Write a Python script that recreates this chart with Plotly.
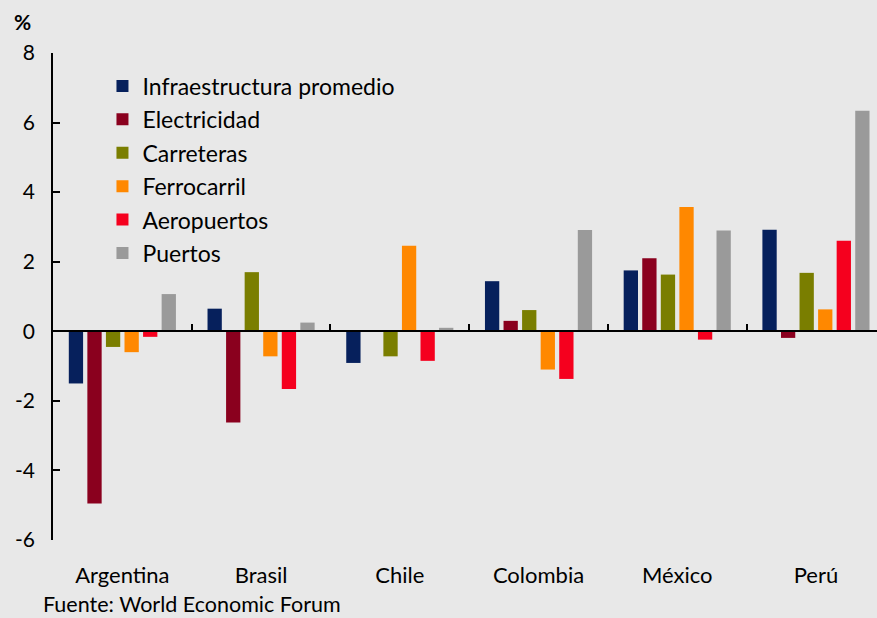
import plotly.graph_objects as go

# Countries on the category axis
countries = ["Argentina", "Brasil", "Chile", "Colombia", "México", "Perú"]

# Change in infrastructure scores (%) by component
infraestructura = [-1.50, 0.65, -0.91, 1.44, 1.75, 2.92]
electricidad = [-4.95, -2.62, 0.0, 0.30, 2.10, -0.19]
carreteras = [-0.45, 1.70, -0.72, 0.61, 1.63, 1.68]
ferrocarril = [-0.60, -0.72, 2.46, -1.10, 3.57, 0.63]
aeropuertos = [-0.16, -1.66, -0.85, -1.37, -0.24, 2.60]
puertos = [1.07, 0.25, 0.10, 2.91, 2.90, 6.34]

series_names = ["Infraestructura promedio", "Electricidad", "Carreteras",
                "Ferrocarril", "Aeropuertos", "Puertos"]
series_values = [infraestructura, electricidad, carreteras,
                 ferrocarril, aeropuertos, puertos]
series_colors = ["#06205C", "#8A001E", "#7A7E00", "#FF8800", "#F5001E", "#9A9A9A"]

y_ticks = [-6, -4, -2, 0, 2, 4, 6, 8]
y_tick_labels = ["-6", "-4", "-2", "0", "2", "4", "6", "8"]

FONT = "Lato"
BG = "#E8E8E8"

fig = go.Figure()
for i, (name, vals, col) in enumerate(zip(series_names, series_values, series_colors)):
    fig.add_trace(go.Bar(
        x=countries, y=vals, name=name, marker_color=col,
        marker_line_width=0, legendgroup=f"g{i}",
    ))

# empty trace so the zero-line axis is drawn
fig.add_trace(go.Scatter(x=[], y=[], xaxis="x2", yaxis="y", showlegend=False))

x_range = [-0.5, 5.44]

fig.update_layout(
    width=877, height=618,
    paper_bgcolor=BG, plot_bgcolor=BG,
    margin=dict(l=52.5, r=0, t=53, b=78),
    barmode="group", bargap=0.197, bargroupgap=0.23,
    font=dict(family=FONT, size=21, color="#000000"),
    xaxis=dict(
        type="category", categoryorder="array", categoryarray=countries,
        range=x_range, showline=False, showgrid=False, zeroline=False,
        ticks="outside", ticklen=16, tickcolor="rgba(0,0,0,0)",
        tickfont=dict(family=FONT, size=22),
    ),
    xaxis2=dict(
        overlaying="x", anchor="free", position=6 / 14,
        range=x_range, showline=True, linecolor="#000000", linewidth=1.5,
        showgrid=False, zeroline=False, showticklabels=False,
        tickmode="array", tickvals=[0.5, 1.5, 2.5, 3.5, 4.5],
        ticks="inside", ticklen=7, tickwidth=1.5, tickcolor="#000000",
    ),
    yaxis=dict(
        range=[-6, 8], tickmode="array", tickvals=y_ticks, ticktext=y_tick_labels,
        showline=True, linecolor="#000000", linewidth=1.5,
        ticks="inside", ticklen=7, tickwidth=1.5, tickcolor="#000000",
        showgrid=False, zeroline=False, ticklabelstandoff=12,
        tickfont=dict(family=FONT, size=21),
    ),
    legend=dict(
        x=(102 - 52.5) / 824.5, y=(540 - 64.5) / 487,
        xanchor="left", yanchor="top",
        bgcolor="rgba(0,0,0,0)", font=dict(family=FONT, size=23),
        tracegroupgap=0.5, itemclick=False,
    ),
    annotations=[
        dict(text="<b>%</b>", xref="paper", yref="paper",
             x=(22 - 52.5) / 824.5, y=(540 - 22) / 487,
             xanchor="center", yanchor="middle", showarrow=False,
             font=dict(family=FONT, size=21)),
        dict(text="Fuente: World Economic Forum", xref="paper", yref="paper",
             x=(40 - 52.5) / 824.5, y=(540 - 604) / 487,
             xanchor="left", yanchor="middle", showarrow=False,
             font=dict(family=FONT, size=21.5)),
    ],
)

fig.write_html("out.html")
